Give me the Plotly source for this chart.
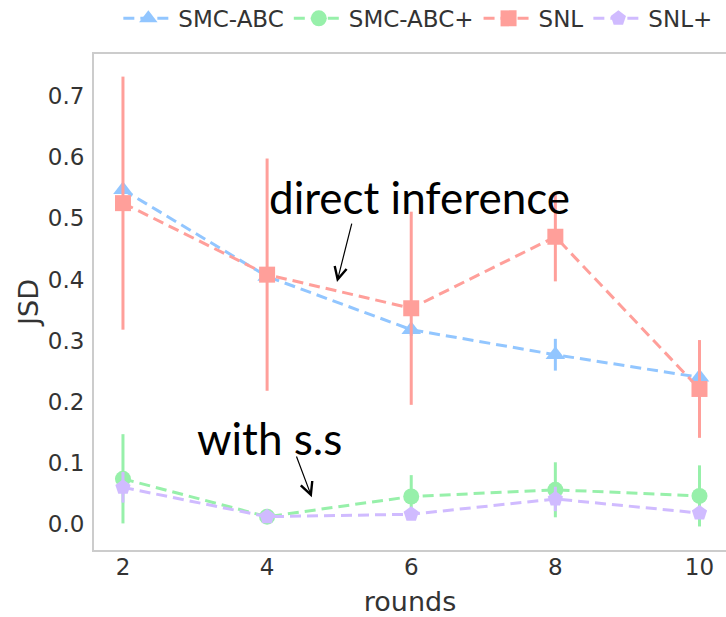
import plotly.graph_objects as go

rounds = [2, 4, 6, 8, 10]
smc_abc = [0.547, 0.405, 0.318, 0.277, 0.240]
smc_abc_err = [0.0, 0.0, 0.01, 0.026, 0.012]
smc_abc_plus = [0.074, 0.012, 0.045, 0.056, 0.046]
smc_abc_plus_err = [0.073, 0.005, 0.035, 0.045, 0.05]
snl = [0.525, 0.408, 0.353, 0.470, 0.221]
snl_err = [0.207, 0.19, 0.158, 0.073, 0.08]
snl_plus = [0.060, 0.012, 0.016, 0.041, 0.018]
snl_plus_err = [0.025, 0.004, 0.005, 0.02, 0.008]
yticks = [0, 0.1, 0.2, 0.3, 0.4, 0.5, 0.6, 0.7]

series = [
    ("SMC-ABC", smc_abc, smc_abc_err, "#92C6FF", "triangle-up", 17),
    ("SMC-ABC+", smc_abc_plus, smc_abc_plus_err, "#97F0AA", "circle", 16),
    ("SNL", snl, snl_err, "#FF9F9A", "square", 16),
    ("SNL+", snl_plus, snl_plus_err, "#D0BBFF", "pentagon", 16),
]

W, H = 726, 617
L, R, T, B = 94, 726, 54, 550

fig = go.Figure()
for name, vals, errs, color, sym, size in series:
    fig.add_trace(go.Scatter(
        x=rounds, y=vals, name=name, mode="lines+markers",
        line=dict(color=color, width=3, dash="11px,6px"),
        marker=dict(symbol=sym, size=size, color=color),
        error_y=dict(type="data", array=errs, visible=True, color=color,
                     thickness=3, width=0),
    ))

fig.add_annotation(x=6.12, y=0.535, text="direct inference", showarrow=False,
                   font=dict(family="Lato", size=44, color="black"))
fig.add_annotation(x=4.04, y=0.140, text="with s.s", showarrow=False,
                   font=dict(family="Lato", size=44, color="black"))
fig.add_annotation(x=4.97, y=0.396, ax=5.18, ay=0.494, axref="x", ayref="y",
                   xref="x", yref="y", text="", showarrow=True,
                   arrowhead=5, arrowsize=2, arrowwidth=1.2, arrowcolor="black")
fig.add_annotation(x=4.62, y=0.044, ax=4.40, ay=0.113, axref="x", ayref="y",
                   xref="x", yref="y", text="", showarrow=True,
                   arrowhead=5, arrowsize=2, arrowwidth=1.2, arrowcolor="black")

fig.update_layout(
    width=W, height=H,
    margin=dict(l=0, r=0, t=0, b=0, autoexpand=False),
    paper_bgcolor="white", plot_bgcolor="white",
    font=dict(family="DejaVu Sans", size=23, color="#333333"),
    showlegend=True,
    legend=dict(orientation="h", x=0.163, y=1.005, xanchor="left", yanchor="top",
                font=dict(size=23, color="#333333"), itemwidth=50,
                bgcolor="rgba(0,0,0,0)", traceorder="normal"),
    xaxis=dict(domain=[L / W, 1.0], range=[1.598, 10.368], tickvals=rounds,
               ticktext=[str(r) for r in rounds],
               showgrid=False, zeroline=False, showline=True, mirror=True,
               linecolor="#cccccc", linewidth=2, ticks="",
               ticklabelstandoff=-5, automargin=False,
               title=dict(text="rounds", font=dict(size=27), standoff=15)),
    yaxis=dict(domain=[1 - B / H, 1 - T / H], range=[-0.0425, 0.769],
               tickvals=yticks, tickformat=".1f",
               showgrid=False, zeroline=False, showline=True, mirror=False,
               linecolor="#cccccc", linewidth=2, ticks="outside", ticklen=3,
               tickcolor="rgba(0,0,0,0)", automargin=False,
               title=dict(text="JSD", font=dict(size=27), standoff=1)),
)

fig.write_html("out.html", config={"displayModeBar": False},
               post_script="document.body.style.margin='0';")
